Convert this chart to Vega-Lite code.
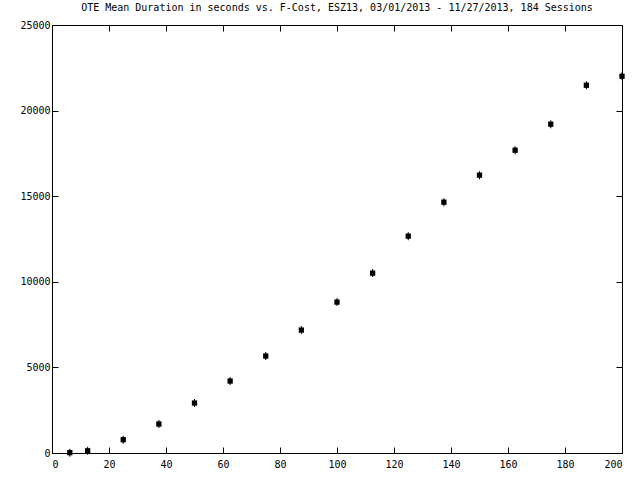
{
  "$schema": "https://vega.github.io/schema/vega-lite/v6.json",
  "width": 570,
  "height": 428,
  "autosize": "none",
  "padding": {"left": 52, "top": 25, "right": 18, "bottom": 27},
  "background": "white",
  "title": {
    "text": "OTE Mean Duration in seconds vs. F-Cost, ESZ13, 03/01/2013 - 11/27/2013, 184 Sessions",
    "font": "DejaVu Sans Mono",
    "fontSize": 10,
    "fontWeight": "normal",
    "color": "black",
    "anchor": "middle",
    "offset": 7
  },
  "config": {
    "view": {"stroke": "black", "strokeWidth": 1},
    "axis": {
      "grid": false,
      "domain": false,
      "ticks": true,
      "tickColor": "black",
      "tickWidth": 1,
      "tickSize": -6,
      "zindex": 1,
      "labelFont": "DejaVu Sans Mono",
      "labelFontSize": 10,
      "labelColor": "black",
      "format": "d",
      "title": null
    }
  },
  "data": {
    "values": [
      {"fcost": 6.25, "duration": 20},
      {"fcost": 12.5, "duration": 130},
      {"fcost": 25, "duration": 776},
      {"fcost": 37.5, "duration": 1693},
      {"fcost": 50, "duration": 2918},
      {"fcost": 62.5, "duration": 4203},
      {"fcost": 75, "duration": 5662},
      {"fcost": 87.5, "duration": 7180},
      {"fcost": 100, "duration": 8814},
      {"fcost": 112.5, "duration": 10507},
      {"fcost": 125, "duration": 12666},
      {"fcost": 137.5, "duration": 14651},
      {"fcost": 150, "duration": 16227},
      {"fcost": 162.5, "duration": 17686},
      {"fcost": 175, "duration": 19204},
      {"fcost": 187.5, "duration": 21480},
      {"fcost": 200, "duration": 22006}
    ]
  },
  "layer": [
    {
      "mark": {"type": "tick", "orient": "vertical", "size": 8, "thickness": 1, "color": "black", "opacity": 1},
      "encoding": {
        "x": {"field": "fcost", "type": "quantitative", "scale": {"domain": [0, 200], "nice": false, "zero": false},
              "axis": {"orient": "bottom", "values": [0,20,40,60,80,100,120,140,160,180,200], "labelPadding": 12}},
        "y": {"field": "duration", "type": "quantitative", "scale": {"domain": [0, 25000], "nice": false},
              "axis": {"orient": "left", "values": [0,5000,10000,15000,20000,25000], "labelPadding": 8}}
      }
    },
    {
      "mark": {"type": "square", "size": 28, "color": "black", "filled": true, "opacity": 1, "clip": false},
      "encoding": {
        "x": {"field": "fcost", "type": "quantitative",
              "axis": {"orient": "top", "values": [0,20,40,60,80,100,120,140,160,180,200], "labels": false}},
        "y": {"field": "duration", "type": "quantitative",
              "axis": {"orient": "right", "values": [0,5000,10000,15000,20000,25000], "labels": false}}
      }
    }
  ],
  "resolve": {"axis": {"x": "independent", "y": "independent"}}
}
